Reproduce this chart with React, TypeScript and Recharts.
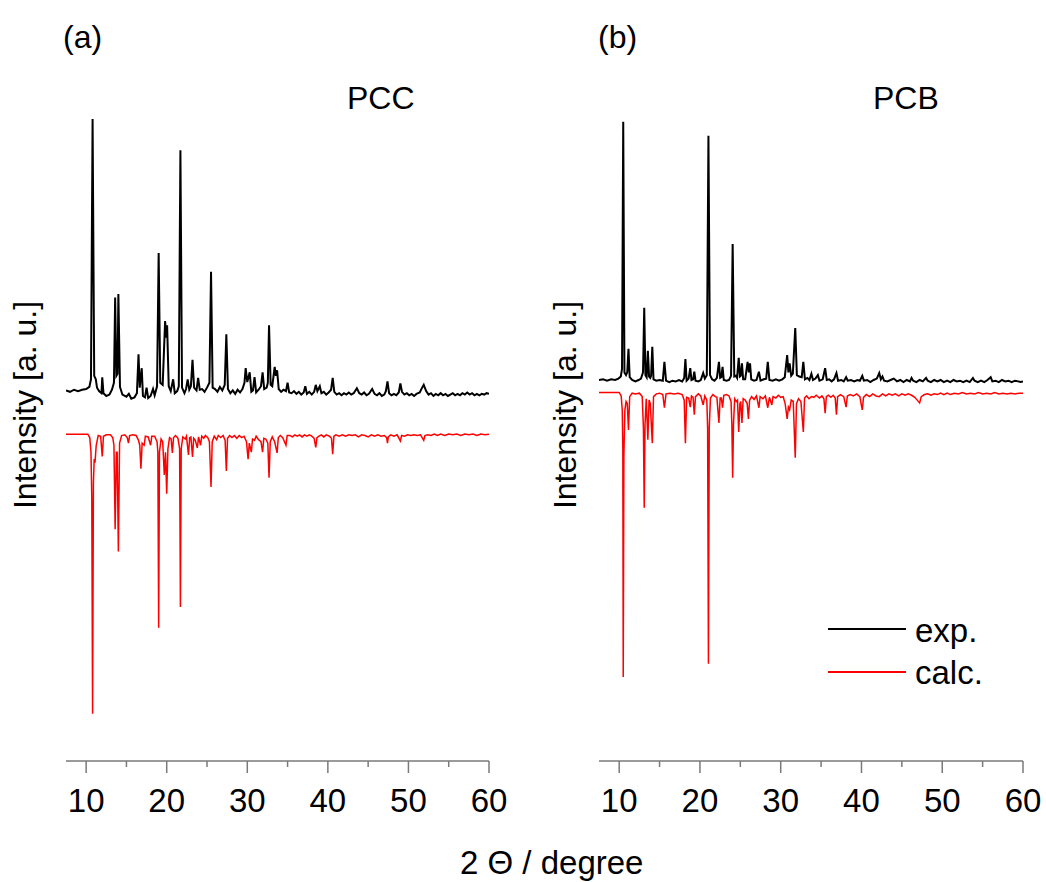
import { LineChart, Line, XAxis, YAxis, Legend } from 'recharts'

// 2θ in degree, intensity in a.u. (0-100 panel scale, exp trace offset above calc trace)
const angleTicks = [10, 15, 20, 25, 30, 35, 40, 45, 50, 55, 60]
const legendOrder = ['exp.', 'calc.']

const expPCC: [number, number][] = [
  [7.5, 53.4], [8.0, 53.2], [8.5, 53.5], [9.0, 53.3], [9.5, 53.5], [10.0, 53.6], [10.4, 53.9], [10.6, 55.0],
  [10.8, 92.5], [11.0, 55.5], [11.2, 55.0], [11.35, 53.8], [11.6, 53.3], [11.9, 53.0], [12.0, 55.3], [12.15, 53.0],
  [12.5, 52.6], [12.9, 52.8], [13.2, 53.5], [13.45, 54.5], [13.6, 66.8], [13.75, 55.5], [13.9, 55.8], [14.0, 67.3],
  [14.2, 53.9], [14.5, 52.8], [15.0, 52.5], [15.3, 52.9], [15.6, 52.2], [16.0, 52.4], [16.3, 53.0], [16.5, 58.6],
  [16.65, 53.8], [16.9, 56.6], [17.05, 52.6], [17.3, 52.4], [17.5, 53.8], [17.7, 52.3], [18.0, 52.6], [18.3, 53.6],
  [18.5, 52.7], [18.8, 54.0], [19.0, 73.2], [19.2, 54.5], [19.5, 54.2], [19.8, 63.4], [19.95, 61.0], [20.05, 62.8],
  [20.25, 54.0], [20.5, 53.3], [20.8, 55.0], [21.0, 53.0], [21.3, 53.3], [21.5, 54.0], [21.7, 88.0], [21.9, 53.8],
  [22.2, 53.0], [22.4, 53.6], [22.6, 55.0], [22.8, 53.5], [23.0, 54.0], [23.2, 57.8], [23.4, 53.8], [23.7, 53.4],
  [23.9, 55.2], [24.1, 53.5], [24.4, 53.6], [24.7, 53.2], [25.0, 53.8], [25.3, 54.5], [25.5, 70.5], [25.7, 53.8],
  [26.0, 53.6], [26.3, 53.2], [26.6, 53.9], [26.9, 53.4], [27.2, 54.2], [27.4, 61.5], [27.6, 53.6], [27.9, 53.0],
  [28.2, 53.4], [28.5, 52.9], [28.8, 53.5], [29.1, 53.1], [29.4, 53.6], [29.65, 54.5], [29.8, 56.6], [30.0, 54.6],
  [30.3, 56.0], [30.5, 53.2], [30.7, 53.4], [30.9, 55.3], [31.1, 53.1], [31.4, 53.5], [31.7, 54.0], [31.9, 56.0],
  [32.1, 53.6], [32.4, 53.8], [32.55, 54.5], [32.7, 62.8], [32.9, 54.2], [33.1, 54.0], [33.4, 56.8], [33.55, 55.5],
  [33.7, 56.3], [33.9, 53.6], [34.2, 53.2], [34.5, 53.5], [34.8, 53.3], [35.0, 54.5], [35.2, 53.1], [35.5, 53.0],
  [35.8, 53.3], [36.1, 52.9], [36.4, 53.2], [36.7, 52.8], [37.0, 53.1], [37.2, 54.0], [37.4, 52.9], [37.7, 53.2],
  [38.0, 52.8], [38.3, 53.2], [38.5, 54.2], [38.7, 53.3], [39.0, 54.0], [39.2, 53.0], [39.5, 53.2], [39.8, 52.8],
  [40.1, 53.1], [40.4, 53.5], [40.6, 55.2], [40.8, 53.2], [41.1, 52.8], [41.4, 53.0], [41.7, 52.7], [42.0, 53.0],
  [42.3, 52.8], [42.6, 53.1], [42.9, 52.8], [43.2, 53.0], [43.6, 53.7], [43.9, 53.0], [44.2, 52.8], [44.5, 53.1],
  [44.8, 52.7], [45.1, 52.9], [45.5, 53.6], [45.8, 52.9], [46.1, 52.7], [46.4, 53.0], [46.7, 52.6], [47.0, 52.8],
  [47.2, 53.3], [47.4, 54.7], [47.6, 53.0], [47.9, 52.7], [48.2, 52.9], [48.5, 52.7], [48.8, 53.1], [49.0, 54.4],
  [49.2, 53.2], [49.5, 52.8], [49.8, 53.0], [50.1, 52.7], [50.4, 52.9], [50.7, 52.6], [51.0, 52.9], [51.4, 53.1],
  [51.7, 53.8], [51.9, 54.2], [52.2, 53.3], [52.5, 52.8], [52.8, 53.0], [53.1, 52.6], [53.4, 52.9], [53.7, 52.7],
  [54.0, 53.0], [54.3, 52.7], [54.6, 52.9], [54.9, 52.6], [55.2, 52.8], [55.5, 53.0], [55.8, 52.7], [56.1, 52.9],
  [56.4, 52.7], [56.7, 53.0], [57.0, 52.8], [57.3, 53.1], [57.6, 52.8], [57.9, 53.0], [58.2, 52.7], [58.5, 52.9],
  [58.8, 52.7], [59.1, 52.9], [59.4, 52.8], [59.7, 53.0], [60.0, 52.9],
]

const calcPCC: [number, number][] = [
  [7.5, 47.1], [10.2, 47.1], [10.45, 46.6], [10.6, 44.5], [10.7, 38.0], [10.8, 6.8], [10.9, 40.0], [11.0, 43.5],
  [11.1, 43.0], [11.25, 45.5], [11.5, 46.9], [11.8, 46.8], [12.0, 43.9], [12.15, 46.8], [12.5, 47.0], [13.0, 47.0],
  [13.3, 46.6], [13.45, 45.5], [13.6, 33.4], [13.75, 44.5], [13.85, 44.5], [14.0, 30.2], [14.15, 45.8], [14.4, 46.9],
  [14.8, 47.0], [15.1, 46.6], [15.25, 45.8], [15.4, 46.9], [15.8, 47.0], [16.2, 46.9], [16.5, 46.2], [16.65, 45.5],
  [16.8, 42.1], [16.95, 45.8], [17.2, 45.5], [17.35, 46.8], [17.7, 46.7], [18.0, 45.5], [18.15, 46.8], [18.5, 46.8],
  [18.8, 46.0], [18.9, 44.5], [19.0, 19.2], [19.1, 44.5], [19.3, 46.4], [19.5, 46.0], [19.7, 41.2], [19.85, 44.5],
  [20.0, 38.5], [20.15, 45.0], [20.35, 46.6], [20.55, 46.4], [20.7, 44.4], [20.85, 46.6], [21.1, 46.9], [21.4, 46.5],
  [21.6, 45.0], [21.7, 22.2], [21.8, 45.0], [22.0, 46.7], [22.3, 46.4], [22.45, 46.8], [22.7, 44.1], [22.85, 46.6],
  [23.0, 46.7], [23.2, 43.8], [23.35, 46.5], [23.55, 46.2], [23.8, 45.1], [23.95, 46.7], [24.2, 45.5], [24.35, 46.8],
  [24.6, 46.5], [24.8, 46.9], [25.1, 46.6], [25.3, 46.0], [25.5, 39.5], [25.65, 46.0], [25.9, 46.8], [26.2, 46.3],
  [26.4, 46.9], [26.7, 46.6], [27.0, 46.9], [27.25, 46.2], [27.4, 41.8], [27.55, 46.5], [27.8, 46.9], [28.1, 46.6],
  [28.4, 46.9], [28.7, 46.5], [29.0, 46.9], [29.3, 46.6], [29.6, 46.8], [29.9, 46.0], [30.1, 43.5], [30.25, 45.8],
  [30.5, 44.5], [30.65, 46.4], [30.9, 46.2], [31.1, 46.8], [31.4, 46.3], [31.7, 46.0], [31.9, 44.5], [32.05, 46.5],
  [32.3, 46.4], [32.55, 45.8], [32.7, 40.8], [32.85, 46.0], [33.1, 46.7], [33.4, 46.0], [33.7, 44.4], [33.85, 46.6],
  [34.1, 46.9], [34.4, 46.6], [34.8, 45.5], [34.95, 46.9], [35.3, 46.9], [35.6, 46.7], [35.9, 47.0], [36.2, 46.8],
  [36.5, 47.0], [36.8, 46.7], [37.1, 47.0], [37.4, 46.8], [37.7, 47.0], [38.0, 46.8], [38.3, 46.5], [38.5, 45.2],
  [38.65, 46.6], [38.9, 46.8], [39.2, 47.0], [39.5, 46.7], [39.8, 47.0], [40.2, 46.8], [40.45, 46.5], [40.6, 44.2],
  [40.75, 46.8], [41.0, 47.0], [41.4, 46.8], [41.8, 47.0], [42.2, 46.8], [42.6, 47.0], [43.0, 46.9], [43.4, 47.0],
  [43.8, 46.7], [44.2, 47.0], [44.6, 46.9], [45.0, 46.7], [45.4, 47.0], [45.8, 46.8], [46.2, 47.0], [46.6, 46.8],
  [47.0, 46.9], [47.3, 46.6], [47.4, 45.8], [47.5, 46.7], [47.8, 47.0], [48.2, 46.8], [48.6, 47.0], [49.0, 46.1],
  [49.15, 46.9], [49.5, 46.8], [49.9, 47.0], [50.3, 46.9], [50.7, 47.0], [51.1, 46.9], [51.5, 47.0], [51.9, 46.2],
  [52.05, 46.9], [52.4, 47.0], [52.8, 46.9], [53.2, 47.1], [53.6, 46.9], [54.0, 47.1], [54.5, 46.9], [55.0, 47.1],
  [55.5, 47.0], [56.0, 47.1], [56.5, 46.9], [57.0, 47.1], [57.5, 47.0], [58.0, 47.1], [58.5, 46.9], [59.0, 47.1],
  [59.5, 47.0], [60.0, 47.1],
]

const expPCB: [number, number][] = [
  [7.5, 54.9], [8.0, 55.0], [8.5, 54.8], [9.0, 55.0], [9.5, 54.9], [9.9, 55.1], [10.2, 55.4], [10.35, 56.5],
  [10.5, 92.1], [10.65, 56.0], [10.85, 55.6], [11.0, 56.0], [11.15, 59.4], [11.3, 55.3], [11.6, 54.9], [12.0, 54.7],
  [12.4, 54.9], [12.7, 55.1], [12.95, 56.0], [13.1, 65.3], [13.25, 55.6], [13.4, 55.3], [13.55, 59.1], [13.7, 55.4],
  [13.85, 55.2], [13.95, 55.5], [14.1, 59.7], [14.25, 55.0], [14.6, 54.8], [15.0, 54.9], [15.4, 54.8], [15.6, 57.5],
  [15.8, 54.8], [16.2, 54.6], [16.6, 54.8], [17.0, 54.7], [17.4, 54.9], [17.8, 54.7], [18.05, 55.2], [18.2, 57.9],
  [18.35, 54.8], [18.6, 55.1], [18.8, 56.6], [18.95, 54.9], [19.15, 55.0], [19.3, 56.1], [19.45, 54.8], [19.8, 54.7],
  [20.1, 54.9], [20.4, 55.9], [20.6, 55.1], [20.85, 55.6], [21.05, 90.1], [21.25, 55.6], [21.5, 55.0], [21.8, 54.8],
  [22.1, 55.2], [22.35, 57.5], [22.5, 55.2], [22.65, 55.3], [22.8, 56.8], [22.95, 54.9], [23.3, 54.8], [23.6, 54.9],
  [23.85, 55.5], [24.05, 74.5], [24.25, 55.4], [24.45, 55.5], [24.6, 55.2], [24.8, 58.1], [24.95, 55.4], [25.05, 55.5],
  [25.2, 57.3], [25.35, 55.0], [25.6, 55.0], [25.9, 57.5], [26.05, 56.0], [26.2, 57.3], [26.35, 55.0], [26.7, 54.8],
  [27.0, 54.9], [27.3, 56.1], [27.5, 54.8], [27.9, 55.0], [28.2, 55.1], [28.4, 57.5], [28.6, 54.9], [29.0, 54.8],
  [29.4, 55.0], [29.8, 54.8], [30.2, 55.0], [30.5, 55.3], [30.8, 58.5], [30.95, 56.0], [31.1, 57.3], [31.3, 55.5],
  [31.5, 55.8], [31.8, 62.4], [32.0, 55.6], [32.3, 55.4], [32.6, 55.3], [32.8, 57.5], [33.0, 55.0], [33.3, 55.2],
  [33.55, 54.9], [33.8, 55.8], [34.0, 54.9], [34.3, 55.1], [34.6, 55.6], [34.8, 54.8], [35.2, 55.0], [35.5, 56.6],
  [35.7, 54.9], [36.0, 55.0], [36.3, 54.7], [36.6, 55.0], [36.9, 55.9], [37.1, 54.8], [37.5, 54.9], [37.8, 54.7],
  [38.1, 55.3], [38.3, 54.8], [38.7, 54.9], [39.1, 54.7], [39.5, 54.9], [39.8, 54.8], [40.1, 55.5], [40.3, 54.8],
  [40.7, 54.9], [41.1, 54.6], [41.5, 54.9], [41.9, 55.1], [42.2, 55.9], [42.4, 55.0], [42.6, 55.4], [42.8, 54.8],
  [43.2, 54.7], [43.6, 54.9], [44.0, 55.1], [44.4, 54.7], [44.8, 54.9], [45.2, 54.6], [45.6, 54.9], [46.0, 54.7],
  [46.2, 55.2], [46.4, 54.8], [46.8, 54.6], [47.2, 54.9], [47.6, 54.7], [48.0, 55.2], [48.2, 54.8], [48.6, 54.6],
  [49.0, 54.9], [49.4, 54.7], [49.8, 54.9], [50.2, 54.6], [50.6, 54.8], [51.0, 54.6], [51.4, 54.9], [51.8, 54.7],
  [52.2, 54.8], [52.6, 54.6], [53.0, 54.8], [53.4, 54.6], [53.8, 55.2], [54.0, 54.8], [54.4, 54.6], [54.8, 54.8],
  [55.2, 54.6], [55.6, 54.9], [56.0, 55.3], [56.2, 54.7], [56.6, 54.8], [57.0, 54.6], [57.4, 54.9], [57.8, 54.7],
  [58.2, 54.8], [58.6, 54.6], [59.0, 54.8], [59.4, 54.7], [59.7, 54.6], [60.0, 54.7],
]

const calcPCB: [number, number][] = [
  [7.5, 53.1], [10.0, 53.1], [10.25, 52.6], [10.38, 50.5], [10.45, 45.0], [10.5, 12.1], [10.58, 44.0], [10.7, 50.5],
  [10.85, 51.8], [11.0, 51.5], [11.15, 47.7], [11.3, 52.5], [11.6, 53.0], [12.0, 52.9], [12.5, 53.0], [12.85, 52.5],
  [13.0, 48.0], [13.1, 36.5], [13.2, 48.5], [13.35, 52.2], [13.55, 46.3], [13.7, 52.0], [13.85, 51.5], [14.1, 45.8],
  [14.25, 52.5], [14.6, 52.9], [15.0, 53.0], [15.4, 52.8], [15.6, 50.9], [15.8, 52.9], [16.3, 53.0], [16.8, 52.9],
  [17.3, 53.0], [17.8, 52.8], [18.05, 52.0], [18.2, 45.8], [18.35, 52.4], [18.6, 52.3], [18.8, 51.0], [18.95, 52.6],
  [19.15, 52.4], [19.3, 49.9], [19.45, 52.5], [19.8, 52.9], [20.1, 52.6], [20.4, 51.3], [20.6, 52.6], [20.85, 52.0],
  [20.95, 48.0], [21.05, 14.0], [21.15, 48.0], [21.3, 52.3], [21.6, 52.8], [21.9, 52.5], [22.1, 52.4], [22.35, 48.7],
  [22.5, 52.3], [22.65, 52.3], [22.8, 50.9], [22.95, 52.7], [23.3, 52.8], [23.6, 52.6], [23.85, 51.8], [23.95, 48.5],
  [24.05, 40.8], [24.15, 48.5], [24.3, 52.2], [24.5, 51.8], [24.65, 52.0], [24.8, 47.4], [24.95, 51.5], [25.05, 51.8],
  [25.2, 48.7], [25.35, 52.2], [25.6, 52.0], [25.85, 51.5], [26.0, 49.3], [26.15, 52.0], [26.4, 52.5], [26.7, 52.1],
  [27.0, 52.6], [27.3, 50.9], [27.45, 52.5], [27.8, 52.2], [28.1, 52.6], [28.4, 50.9], [28.6, 52.4], [28.9, 51.3],
  [29.05, 52.5], [29.4, 52.3], [29.7, 52.7], [30.0, 52.4], [30.3, 52.5], [30.55, 51.5], [30.8, 49.3], [30.95, 51.0],
  [31.1, 50.6], [31.3, 52.0], [31.55, 51.8], [31.8, 43.7], [31.95, 51.5], [32.2, 52.2], [32.5, 51.8], [32.8, 47.4],
  [32.95, 52.3], [33.2, 52.6], [33.5, 52.2], [33.8, 52.5], [34.1, 52.4], [34.4, 52.7], [34.8, 52.3], [35.1, 52.6],
  [35.35, 52.2], [35.5, 50.1], [35.65, 52.5], [35.9, 52.7], [36.2, 52.4], [36.5, 52.7], [36.75, 52.3], [36.9, 49.9],
  [37.05, 52.5], [37.4, 52.8], [37.8, 52.5], [38.1, 51.0], [38.25, 52.6], [38.6, 52.8], [39.0, 52.6], [39.4, 52.9],
  [39.8, 52.5], [39.95, 51.5], [40.1, 50.6], [40.25, 52.4], [40.6, 52.8], [41.0, 52.5], [41.4, 52.9], [41.8, 52.6],
  [42.2, 52.5], [42.6, 52.9], [43.0, 52.6], [43.4, 52.9], [43.8, 52.7], [44.2, 52.9], [44.6, 52.6], [45.0, 52.9],
  [45.4, 52.7], [45.8, 52.9], [46.2, 52.7], [46.6, 52.4], [46.9, 52.0], [47.2, 51.6], [47.4, 52.5], [47.8, 52.8],
  [48.2, 52.9], [48.6, 52.7], [49.0, 52.9], [49.4, 52.8], [49.8, 53.0], [50.2, 52.8], [50.6, 53.0], [51.0, 52.8],
  [51.5, 53.0], [52.0, 52.9], [52.5, 53.1], [53.0, 52.9], [53.5, 53.0], [54.0, 52.9], [54.5, 53.1], [55.0, 52.9],
  [55.5, 53.0], [56.0, 52.9], [56.5, 53.1], [57.0, 52.9], [57.5, 53.0], [58.0, 52.9], [58.5, 53.0], [59.0, 52.9],
  [59.5, 53.0], [60.0, 53.0],
]

const FONT = '"Liberation Sans", Arial, sans-serif'
const AXIS = '#7a7a7a'

const toRows = (pts: [number, number][]) => pts.map(([angle, value]) => ({ angle, value }))

function AngleTick({ x, y, payload }: any) {
  const major = payload.value % 10 === 0
  return (
    <g>
      <line x1={x} x2={x} y1={y} y2={y + (major ? 12 : 6)} stroke={AXIS} strokeWidth={1.5} />
      {major && (
        <text x={x} y={y + 51} textAnchor="middle" fontSize={33} fontFamily={FONT} fill="#000">
          {payload.value}
        </text>
      )}
    </g>
  )
}

function LegendBox({ payload }: any) {
  const items = [...(payload || [])].sort((a: any, b: any) => legendOrder.indexOf(a.value) - legendOrder.indexOf(b.value))
  return (
    <svg width={220} height={80} style={{ display: 'block', overflow: 'visible' }}>
      {items.map((p: any, i: number) => (
        <g key={p.value}>
          <line x1={0} x2={78} y1={14 + i * 43} y2={14 + i * 43} stroke={p.color} strokeWidth={2} />
          <text x={87} y={27 + i * 42} fontSize={33} fontFamily={FONT} fill="#000">{p.value}</text>
        </g>
      ))}
    </svg>
  )
}

interface PanelProps {
  left: number
  width: number
  rightMargin: number
  exp: [number, number][]
  calc: [number, number][]
  legend?: boolean
}

function Panel({ left, width, rightMargin, exp, calc, legend }: PanelProps) {
  return (
    <div style={{ position: 'absolute', left, top: 0 }}>
      <LineChart width={width} height={882} margin={{ top: 67, right: rightMargin, bottom: 61, left: 66 }} style={{ overflow: 'visible' }}>
        <XAxis
          type="number"
          dataKey="angle"
          domain={[7.5, 60]}
          ticks={angleTicks}
          interval={0}
          tick={<AngleTick />}
          tickLine={false}
          tickSize={0}
          tickMargin={0}
          axisLine={{ stroke: AXIS, strokeWidth: 1.5 }}
          height={60}
          allowDataOverflow
        />
        <YAxis type="number" domain={[0, 100]} tick={false} tickLine={false} axisLine={{ stroke: AXIS, strokeWidth: 1.5 }} width={0} allowDataOverflow />
        <Line data={toRows(exp)} dataKey="value" name="exp." type="linear" stroke="#000000" strokeWidth={2} dot={false} activeDot={false} isAnimationActive={false} />
        <Line data={toRows(calc)} dataKey="value" name="calc." type="linear" stroke="#ff0000" strokeWidth={1.5} dot={false} activeDot={false} isAnimationActive={false} />
        {legend && (
          <Legend
            layout="vertical"
            align="center"
            verticalAlign="middle"
            content={<LegendBox />}
            wrapperStyle={{ position: 'absolute', left: 295, top: 615, width: 220, height: 80, overflow: 'visible' }}
          />
        )}
      </LineChart>
    </div>
  )
}

export default function App() {
  return (
    <div style={{ position: 'absolute', left: 0, top: 0, width: 1046, height: 882, background: '#fff', fontFamily: FONT, overflow: 'hidden' }}>
      <Panel left={0} width={520} rightMargin={31} exp={expPCC} calc={calcPCC} />
      <Panel left={533} width={513} rightMargin={23} exp={expPCB} calc={calcPCB} legend />
      <svg width={1046} height={882} style={{ position: 'absolute', left: 0, top: 0, pointerEvents: 'none' }} fontFamily={FONT}>
        <text x={63} y={48} fontSize={32}>(a)</text>
        <text x={347} y={109} fontSize={32}>PCC</text>
        <text x={598} y={48} fontSize={32}>(b)</text>
        <text x={873} y={109} fontSize={32}>PCB</text>
        <text x={36} y={405} fontSize={32} textAnchor="middle" transform="rotate(-90 36 405)">Intensity [a. u.]</text>
        <text x={576} y={405} fontSize={32} textAnchor="middle" transform="rotate(-90 576 405)">Intensity [a. u.]</text>
        <text x={460} y={874} fontSize={33}>2 Θ / degree</text>
      </svg>
    </div>
  )
}
